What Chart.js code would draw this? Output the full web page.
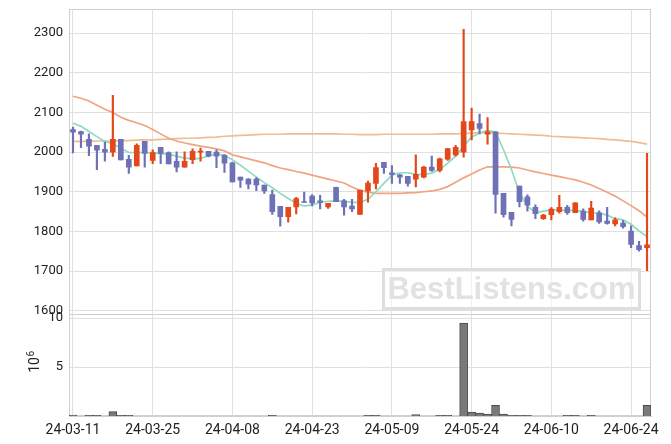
<!DOCTYPE html>
<html><head><meta charset="utf-8">
<script src="https://cdn.jsdelivr.net/npm/chart.js@4.4.1/dist/chart.umd.min.js"></script>
<style>
html,body{margin:0;padding:0;background:#fff;}
#wrap{position:relative;width:671px;height:444px;}
#wm{position:absolute;left:382px;top:268px;width:253px;height:36px;border:3px solid #dedede;background:rgba(255,255,255,0.55);
 font:bold 31px "Liberation Sans",Arial,sans-serif;color:#e2e2e2;text-align:center;line-height:36px;letter-spacing:0px;}
</style></head>
<body>
<div id="wrap"><canvas id="c" width="671" height="444"></canvas><div id="wm">BestListens.com</div></div>
<script>
const dates = ["24-03-11","24-03-12","24-03-13","24-03-14","24-03-15","24-03-18","24-03-19","24-03-20","24-03-21","24-03-22",
"24-03-25","24-03-26","24-03-27","24-03-28","24-03-29","24-04-01","24-04-02","24-04-03","24-04-04","24-04-05",
"24-04-08","24-04-09","24-04-11","24-04-12","24-04-15","24-04-16","24-04-17","24-04-18","24-04-19","24-04-22",
"24-04-23","24-04-24","24-04-25","24-04-26","24-04-29","24-04-30","24-05-02","24-05-03","24-05-07","24-05-08",
"24-05-09","24-05-10","24-05-13","24-05-14","24-05-16","24-05-17","24-05-20","24-05-21","24-05-22","24-05-23",
"24-05-24","24-05-27","24-05-28","24-05-29","24-05-30","24-05-31","24-06-03","24-06-04","24-06-05","24-06-07",
"24-06-10","24-06-11","24-06-12","24-06-13","24-06-14","24-06-17","24-06-18","24-06-19","24-06-20","24-06-21",
"24-06-24","24-06-25","24-06-26"];
const openP  = [2057,2052,2032,2017,2007,2000,2032,1982,1965,2027,1979,2012,1999,1977,1962,1981,2000,2002,2000,1992,
1973,1937,1932,1932,1917,1893,1863,1837,1862,1875,1889,1877,1862,1911,1877,1864,1843,1902,1921,1974,
1948,1943,1939,1932,1937,1962,1954,1982,1993,2000,2056,2072,2045,2051,1896,1848,1914,1887,1861,1832,
1842,1850,1861,1847,1851,1829,1847,1826,1819,1821,1801,1764,1759];
const highP  = [2063,2053,2046,2017,2025,2143,2032,1992,2021,2027,2006,2012,2001,2001,2001,2008,2010,2002,2006,1994,
1975,1937,1933,1936,1917,1904,1863,1861,1886,1899,1893,1891,1871,1912,1881,1881,1904,1927,1972,1974,
1966,1944,1939,1993,1964,1990,1985,2009,2017,2310,2111,2096,2087,2051,1896,1848,1914,1892,1867,1843,
1860,1891,1866,1872,1857,1876,1852,1861,1834,1827,1814,1775,1997];
const lowP   = [1998,2011,1991,1956,1977,1989,1980,1946,1965,1962,1971,1971,1970,1950,1962,1971,1977,1988,1961,1949,
1925,1911,1907,1903,1896,1843,1813,1823,1844,1873,1864,1857,1858,1875,1841,1850,1843,1874,1907,1946,
1921,1921,1914,1912,1935,1951,1950,1979,1990,1987,2031,2046,2020,1846,1836,1814,1862,1851,1832,1830,
1829,1846,1843,1847,1826,1829,1820,1818,1814,1808,1759,1750,1701];
const closeP = [2050,2045,2015,2005,2000,2032,1980,1962,2017,1997,1999,1997,1970,1962,1977,2002,2002,1990,1990,1972,
1925,1929,1919,1917,1902,1850,1837,1861,1883,1873,1872,1873,1871,1875,1862,1857,1904,1922,1961,1961,
1944,1937,1921,1944,1962,1954,1983,2009,2012,2077,2077,2060,2051,1893,1842,1830,1875,1866,1845,1841,
1856,1861,1847,1872,1830,1859,1824,1820,1829,1812,1767,1754,1766];
const ma5 = [2073,2065,2052,2039,2027,2021,2010,1999,1999,1999,1998,1996,1995,1990,1985,1983,1984,1991,1995,1992,
1981,1967,1952,1937,1923,1910,1896,1883,1871,1864,1867,1873,1876,1877,1876,1873,1873,1881,1900,1921,
1942,1948,1948,1944,1943,1947,1956,1972,1990,2015,2038,2048,2055,2051,2006,1956,1897,1864,1847,1851,
1854,1854,1853,1853,1850,1847,1846,1841,1832,1829,1818,1801,1787];
const ma20 = [2141,2136,2129,2118,2108,2100,2088,2080,2074,2067,2057,2046,2035,2028,2023,2019,2015,2012,2008,2003,
1993,1988,1983,1978,1973,1966,1960,1956,1951,1947,1942,1937,1932,1927,1922,1912,1903,1899,1896,1896,
1896,1896,1897,1898,1900,1902,1906,1913,1924,1935,1945,1955,1963,1963,1963,1962,1960,1955,1950,1946,
1942,1938,1934,1930,1924,1917,1908,1899,1889,1877,1865,1852,1836];
const ma60 = [2027,2027,2027,2028,2028,2028,2029,2029,2030,2031,2031,2032,2033,2034,2035,2035,2036,2037,2038,2040,
2041,2042,2043,2044,2045,2045,2045,2046,2046,2046,2046,2046,2046,2046,2045,2045,2044,2044,2044,2045,
2045,2045,2045,2045,2045,2045,2046,2046,2046,2047,2048,2049,2049,2048,2047,2046,2045,2044,2043,2042,
2040,2039,2038,2037,2036,2035,2034,2032,2031,2029,2027,2024,2020];
const volume = [0.1,0,0.08,0.08,0,0.45,0.08,0.08,0,0,0,0,0,0,0,0,0,0,0,0,
0,0,0,0,0,0.08,0,0,0,0,0,0,0,0,0,0,0,0.08,0.08,0,
0,0,0,0.15,0,0,0.08,0.08,0,9.5,0.4,0.3,0.2,1.1,0.2,0.08,0.08,0.08,0,0,
0,0,0.08,0.08,0,0.08,0,0,0,0,0,0,1.1];
const xTickIdx = [0,10,20,30,40,50,60,70];
const priceTicks = [1600,1700,1800,1900,2000,2100,2200,2300];
const volTicks = [5,10];
const volTitle = ['10','6'];

const UP = '#e2481a', DOWN = '#6e71b5';
const candleColors = openP.map((o,i)=> closeP[i] >= o ? UP : DOWN);
const bodies = openP.map((o,i)=>[o, closeP[i]]);
const wicks = lowP.map((l,i)=>[l, highP[i]]);

const frame = {
  id:'frame',
  beforeDatasetsDraw(chart){
    const {ctx, chartArea:a, scales} = chart;
    ctx.save();
    ctx.strokeStyle = '#d0d0d0'; ctx.lineWidth = 1;
    ctx.strokeRect(Math.round(a.left)+0.5, Math.round(a.top)+0.5, Math.round(a.right-a.left)-1, Math.round(a.bottom-a.top)-1);
    const yb = Math.round(scales.y.bottom)+0.5;
    ctx.beginPath(); ctx.moveTo(a.left, yb); ctx.lineTo(a.right, yb); ctx.stroke();
    ctx.restore();
  },
  afterDraw(chart){
    const {ctx, scales} = chart;
    const v = scales.v;
    const cy = (v.top + v.bottom)/2 - 3;
    ctx.save();
    ctx.translate(38.5, cy);
    ctx.rotate(-Math.PI/2);
    ctx.fillStyle = '#222';
    ctx.textBaseline = 'alphabetic';
    ctx.font = '14px Roboto';
    const w1 = ctx.measureText(volTitle[0]).width;
    ctx.font = '10px Roboto';
    const w2 = ctx.measureText(volTitle[1]).width;
    const x0 = -(w1 + w2)/2;
    ctx.font = '14px Roboto';
    ctx.fillText(volTitle[0], x0, 0);
    ctx.font = '10px Roboto';
    ctx.fillText(volTitle[1], x0 + w1 + 0.5, -4.5);
    ctx.restore();
  }
};

const gridCol = '#e0e0e0';
const noPad = s => { s.paddingTop = 0; s.paddingBottom = 0; s.paddingLeft = 0; s.paddingRight = 0; };
new Chart(document.getElementById('c'), {
  type:'bar',
  data:{
    labels: dates,
    datasets:[
      {type:'bar', data: bodies, backgroundColor: candleColors, borderWidth:0, barThickness:5, minBarLength:1, grouped:false, yAxisID:'y', order:0},
      {type:'bar', data: wicks, backgroundColor: candleColors, borderWidth:0, barThickness:1.5, grouped:false, yAxisID:'y', order:1},
      {type:'bar', data: volume, backgroundColor:'#7a7a7a', borderColor:'#4a4a4a', borderWidth:1, barPercentage:1, categoryPercentage:1, grouped:false, yAxisID:'v', order:2},
      {type:'line', data: ma5, borderColor:'#8cdcc0', borderWidth:1.7, pointRadius:0, fill:false, tension:0, yAxisID:'y', order:3},
      {type:'line', data: ma20, borderColor:'#f0a482', borderWidth:1.7, pointRadius:0, fill:false, tension:0, yAxisID:'y', order:4},
      {type:'line', data: ma60, borderColor:'#f1bc94', borderWidth:1.7, pointRadius:0, fill:false, tension:0, yAxisID:'y', order:5}
    ]
  },
  options:{
    responsive:false, animation:false,
    layout:{padding:{top:9,right:20,left:0,bottom:0}},
    plugins:{legend:{display:false}, tooltip:{enabled:false}},
    scales:{
      x:{type:'category', offset:true,
        grid:{offset:false, color:gridCol, drawTicks:false},
        border:{display:true, color:'#d0d0d0'},
        ticks:{autoSkip:false, maxRotation:0, minRotation:0, padding:6, color:'#222', font:{family:'Roboto', size:14}},
        afterBuildTicks: s => { s.ticks = xTickIdx.map(v=>({value:v})); },
        afterFit: s => { s.height = 28; noPad(s); }
      },
      y:{type:'linear', position:'left', stack:'main', stackWeight:3, weight:2, min:1591, max:2361,
        grid:{color:gridCol, drawTicks:false},
        border:{display:true, color:'#d0d0d0'},
        ticks:{padding:6, color:'#222', font:{family:'Roboto', size:13}, callback: v => String(v)},
        afterBuildTicks: s => { s.ticks = priceTicks.map(v=>({value:v})); },
        afterFit: s => { s.width = 69; noPad(s); }
      },
      v:{type:'linear', position:'left', stack:'main', stackWeight:1, weight:1, min:0, max:10.4,
        grid:{color:gridCol, drawTicks:false},
        border:{display:true, color:'#d0d0d0'},
        ticks:{padding:6, color:'#222', font:{family:'Roboto', size:13}, callback: v => String(v)},
        afterBuildTicks: s => { s.ticks = volTicks.map(v=>({value:v})); },
        afterFit: s => { s.width = 69; noPad(s); }
      }
    }
  },
  plugins:[frame]
});
</script>
</body></html>
